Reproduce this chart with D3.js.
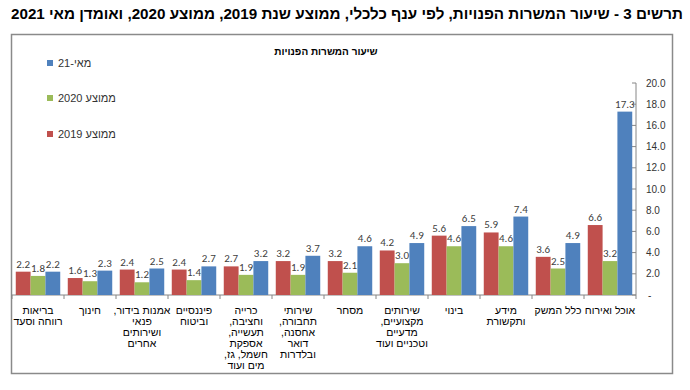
<!DOCTYPE html>
<html><head><meta charset="utf-8">
<script src="https://cdn.jsdelivr.net/npm/d3@7"></script>
<style>body{margin:0;background:#fff;}svg{display:block;font-family:"Liberation Sans",Arial,sans-serif;}</style>
</head><body>
<svg id="c" width="690" height="390"></svg>
<script>
const categories = [
  ["בריאות","רווחה וסעד"],
  ["חינוך"],
  ["אמנות בידור,","פנאי","ושירותים","אחרים"],
  ["פיננסיים","וביטוח"],
  ["כרייה","וחציבה,","תעשייה,","אספקת","חשמל, גז,","מים ועוד"],
  ["שירותי","תחבורה,","אחסנה,","דואר","ובלדרות"],
  ["מסחר"],
  ["שירותים","מקצועיים,","מדעיים","וטכניים ועוד"],
  ["בינוי"],
  ["מידע","ותקשורת"],
  ["כלל המשק"],
  ["אוכל ואירוח"]
];
const avg2019 = [2.2,1.6,2.4,2.4,2.7,3.2,3.2,4.2,5.6,5.9,3.6,6.6];
const avg2020 = [1.8,1.3,1.2,1.4,1.9,1.9,2.1,3.0,4.6,4.6,2.5,3.2];
const may21   = [2.2,2.3,2.5,2.7,3.2,3.7,4.6,4.9,6.5,7.4,4.9,17.3];
const seriesNames = ["ממוצע 2019","ממוצע 2020","מאי-21"];
const seriesColors = ["#C0504D","#9BBB59","#4F81BD"];
const yTicks = [0,2,4,6,8,10,12,14,16,18,20];
const title = "תרשים 3 - שיעור המשרות הפנויות, לפי ענף כלכלי, ממוצע שנת 2019, ממוצע 2020, ואומדן מאי 2021";
const chartTitle = "שיעור המשרות הפנויות";

const svg = d3.select("#c");
const series = [avg2019, avg2020, may21];

svg.append("text").attr("x",683).attr("y",19).attr("text-anchor","start").attr("direction","rtl")
  .attr("font-size",15.2).attr("font-weight","bold").attr("fill","#000").text(title);

svg.append("rect").attr("x",11.5).attr("y",34.5).attr("width",661).attr("height",339)
  .attr("fill","none").attr("stroke","#8a8a8a").attr("stroke-width",1.5);

svg.append("text").attr("x",326).attr("y",55).attr("text-anchor","middle").attr("direction","rtl")
  .attr("font-size",10).attr("font-weight","bold").text(chartTitle);

const x = d3.scaleBand().domain(d3.range(categories.length)).range([12,636]).paddingInner(0).paddingOuter(0);
const xs = d3.scaleBand().domain([0,1,2]).range([0, x.bandwidth()]).paddingOuter(0.254).paddingInner(0);
const y = d3.scaleLinear().domain([0,20]).range([295,83]);

// axis
const ax = svg.append("g").attr("transform","translate(636,0)");
ax.append("line").attr("x1",0).attr("x2",0).attr("y1",y(0)).attr("y2",y(20)).attr("stroke","#868686");
yTicks.forEach(t=>{
  ax.append("line").attr("x1",-4).attr("x2",0).attr("y1",y(t)).attr("y2",y(t)).attr("stroke","#868686");
  ax.append("text").attr("x", t===0?12:10).attr("y",y(t)+3.5).attr("font-size",10).attr("fill","#333")
    .text(t===0?"-":d3.format(".1f")(t));
});
// baseline
svg.append("line").attr("x1",12).attr("x2",636).attr("y1",y(0)).attr("y2",y(0)).attr("stroke","#868686");
d3.range(categories.length+1).forEach(i=>{
  const xx = i<categories.length? x(i) : 636;
  svg.append("line").attr("x1",xx).attr("x2",xx).attr("y1",y(0)).attr("y2",y(0)+4).attr("stroke","#868686");
});

// bars
series.forEach((s,si)=>{
  svg.append("g").selectAll("rect").data(s).join("rect")
    .attr("x",(d,i)=>x(i)+xs(si)).attr("width",xs.bandwidth())
    .attr("y",d=>y(d)).attr("height",d=>y(0)-y(d)).attr("fill",seriesColors[si]);
});
series.forEach((s,si)=>{
  svg.append("g").selectAll("text").data(s).join("text")
    .attr("x",(d,i)=>x(i)+xs(si)+xs.bandwidth()/2).attr("y",d=>y(d)-4)
    .attr("text-anchor","middle").attr("fill","#404040")
    .attr("font-family","Carlito, Liberation Sans, sans-serif").attr("font-size",11)
    .text(d=>d3.format(".1f")(d));
});

// category labels
categories.forEach((lines,i)=>{
  const t = svg.append("text").attr("text-anchor","middle").attr("direction","rtl")
    .attr("font-size",10.5).attr("fill","#000");
  lines.forEach((ln,k)=>{
    t.append("tspan").attr("x",x(i)+x.bandwidth()/2).attr("y",314+k*11).text(ln);
  });
});

// legend
const legendY = [134,98,63];
series.forEach((s,si)=>{
  svg.append("rect").attr("x",47).attr("y",legendY[si]-3).attr("width",6).attr("height",6).attr("fill",seriesColors[si]);
  svg.append("text").attr("x",58).attr("y",legendY[si]+4).attr("direction","rtl").attr("text-anchor","end")
    .attr("font-size",11).attr("fill","#333").text(seriesNames[si]);
});
</script>
</body></html>
